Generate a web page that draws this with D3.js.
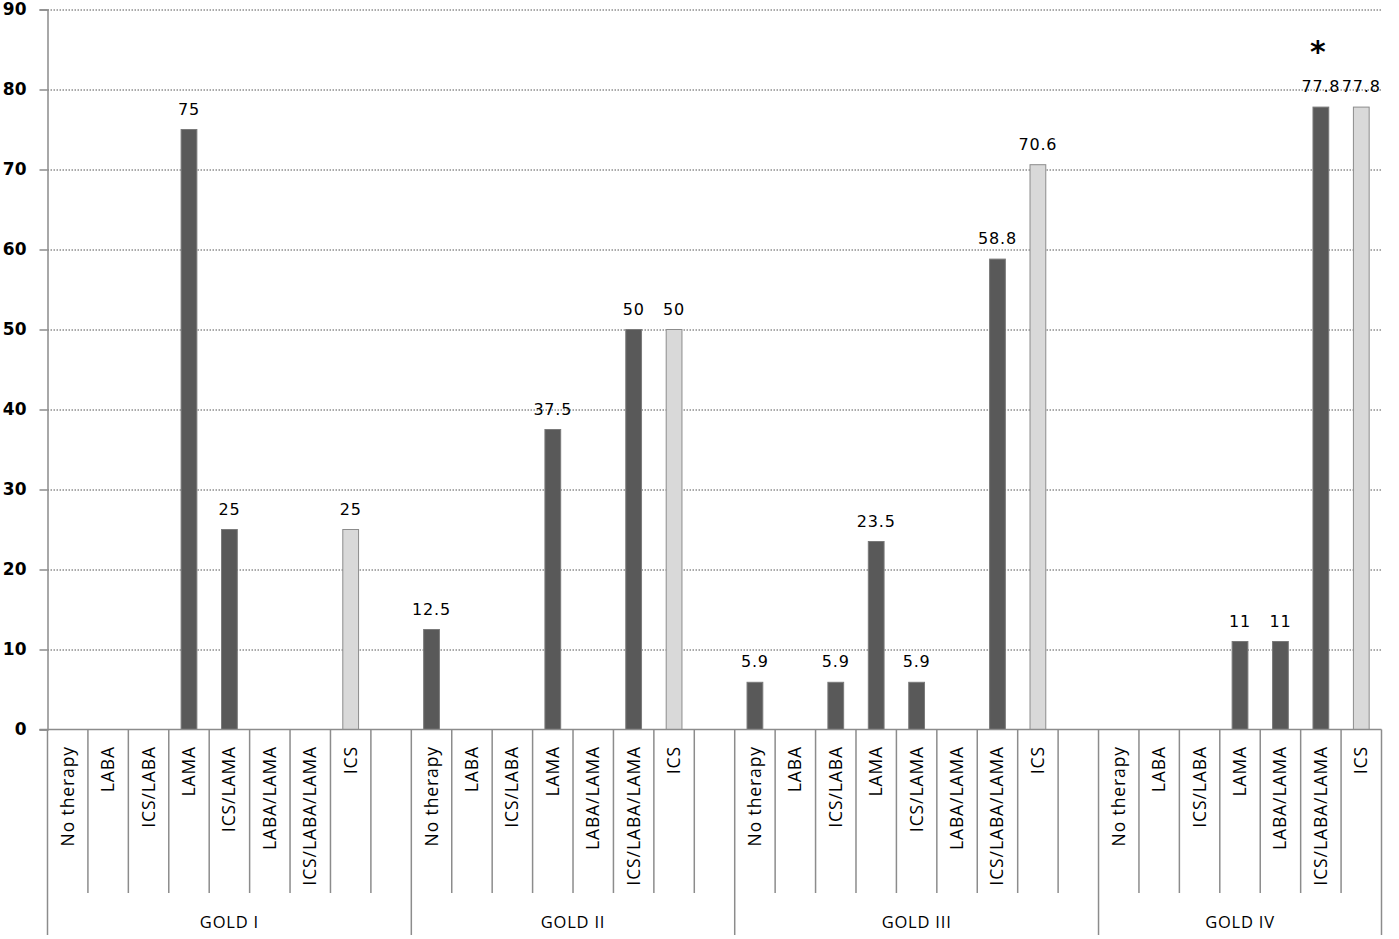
<!DOCTYPE html>
<html><head><meta charset="utf-8">
<script src="https://cdn.jsdelivr.net/npm/d3@7"></script>
<style>body{margin:0;background:#fff}svg{display:block}</style>
</head><body>
<script>
// ---- data ----
const groups = ["GOLD I", "GOLD II", "GOLD III", "GOLD IV"];
const goldICats = ["No therapy","LABA","ICS/LABA","LAMA","ICS/LAMA","LABA/LAMA","ICS/LABA/LAMA","ICS",""];
const goldIVals = [0,0,0,75,25,0,0,25,null];
const goldIICats = ["No therapy","LABA","ICS/LABA","LAMA","LABA/LAMA","ICS/LABA/LAMA","ICS",""];
const goldIIVals = [12.5,0,0,37.5,0,50,50,null];
const goldIIICats = ["No therapy","LABA","ICS/LABA","LAMA","ICS/LAMA","LABA/LAMA","ICS/LABA/LAMA","ICS",""];
const goldIIIVals = [5.9,0,5.9,23.5,5.9,0,58.8,70.6,null];
const goldIVCats = ["No therapy","LABA","ICS/LABA","LAMA","LABA/LAMA","ICS/LABA/LAMA","ICS"];
const goldIVVals = [0,0,0,11,11,77.8,77.8];
const yTicks = [0,10,20,30,40,50,60,70,80,90];
const annotations = [{group:"GOLD IV", cat:"ICS/LABA/LAMA", text:"*"}];

const groupCats = [goldICats, goldIICats, goldIIICats, goldIVCats];
const groupVals = [goldIVals, goldIIVals, goldIIIVals, goldIVVals];

// ---- build slots ----
const slots = [];
groups.forEach((g, gi) => {
  groupCats[gi].forEach((c, ci) => {
    slots.push({key: g + "|" + ci, group: g, cat: c, value: groupVals[gi][ci]});
  });
});

const W = 1399, H = 939;
const x0 = 47.5, x1 = 1381.5, yTop = 9.5, yBase = 729.5;

const svg = d3.select("body").append("svg").attr("width", W).attr("height", H);

const x = d3.scaleBand().domain(slots.map(d => d.key)).range([x0, x1]).padding(0);
const y = d3.scaleLinear().domain([0, 90]).range([yBase, yTop]);

const gray = "#8c8c8c";

// gridlines
const grid = svg.append("g").attr("transform", `translate(${x0},0)`)
  .call(d3.axisLeft(y).tickValues(yTicks.filter(t => t > 0)).tickSize(-(x1 - x0)).tickFormat(""));
grid.select(".domain").remove();
grid.selectAll("line").attr("stroke", "#555").attr("stroke-width", 1).attr("stroke-dasharray", "1.5,1.5");

// bars
const bw = x.bandwidth() * 0.39;
const barData = slots.filter(d => d.value != null && d.value > 0);
svg.append("g").selectAll("rect").data(barData).join("rect")
  .attr("x", d => x(d.key) + x.bandwidth()/2 - bw/2)
  .attr("y", d => y(d.value))
  .attr("width", bw)
  .attr("height", d => y(0) - y(d.value))
  .attr("fill", d => d.cat === "ICS" ? "#d9d9d9" : "#595959")
  .attr("stroke", d => d.cat === "ICS" ? "#8c8c8c" : "#7a7a7a")
  .attr("stroke-width", 1);

// value labels
svg.append("g").selectAll("text").data(barData).join("text")
  .attr("x", d => x(d.key) + x.bandwidth()/2)
  .attr("y", d => y(d.value) - 15)
  .attr("text-anchor", "middle")
  .attr("font-family", "DejaVu Sans, Verdana, sans-serif")
  .attr("font-size", 16)
  .attr("letter-spacing", 0.8)
  .attr("fill", "#000")
  .text(d => String(d.value));

// y axis
const yAxis = svg.append("g").attr("transform", `translate(${x0},0)`)
  .call(d3.axisLeft(y).tickValues(yTicks).tickSize(8).tickPadding(13));
yAxis.select(".domain").attr("stroke", gray).attr("stroke-width", 1.5);
yAxis.selectAll(".tick line").attr("stroke", gray).attr("stroke-width", 1.5);
yAxis.selectAll("text").attr("font-family", "DejaVu Sans, Verdana, sans-serif")
  .attr("font-size", 17).attr("font-weight", "bold").attr("fill", "#000");

// baseline
svg.append("line").attr("x1", x0 - 8).attr("x2", x1).attr("y1", yBase).attr("y2", yBase)
  .attr("stroke", gray).attr("stroke-width", 1.5);

// category separators
const catSepBottom = 893, groupSepBottom = 935;
const groupStarts = new Set(groups.map(g => slots.find(s => s.group === g).key));
svg.append("g").selectAll("line").data(slots).join("line")
  .attr("x1", d => x(d.key)).attr("x2", d => x(d.key))
  .attr("y1", yBase).attr("y2", d => groupStarts.has(d.key) ? groupSepBottom : catSepBottom)
  .attr("stroke", gray).attr("stroke-width", 1.5);
svg.append("line").attr("x1", x1).attr("x2", x1).attr("y1", yBase).attr("y2", groupSepBottom)
  .attr("stroke", gray).attr("stroke-width", 1.5);

// category labels
svg.append("g").selectAll("text").data(slots.filter(d => d.cat)).join("text")
  .attr("transform", d => `translate(${x(d.key) + x.bandwidth()/2 + 6},746) rotate(-90)`)
  .attr("text-anchor", "end")
  .attr("font-family", "Open Sans, sans-serif")
  .attr("font-size", 17.5)
  .attr("letter-spacing", 0.9)
  .attr("fill", "#000")
  .text(d => d.cat);

// group labels
svg.append("g").selectAll("text").data(groups).join("text")
  .attr("x", g => {
    const ss = slots.filter(s => s.group === g);
    const a = x(ss[0].key), b = x(ss[ss.length-1].key) + x.bandwidth();
    return (a + b) / 2;
  })
  .attr("y", 928)
  .attr("text-anchor", "middle")
  .attr("font-family", "Open Sans, sans-serif")
  .attr("font-size", 16.5)
  .attr("letter-spacing", 0.8)
  .attr("fill", "#000")
  .text(g => g);

// annotations
svg.append("g").selectAll("text").data(annotations).join("text")
  .attr("x", a => {
    const s = slots.find(s => s.group === a.group && s.cat === a.cat);
    return x(s.key) + x.bandwidth()/2 - 3;
  })
  .attr("y", 62)
  .attr("text-anchor", "middle")
  .attr("font-family", "DejaVu Sans, sans-serif")
  .attr("font-size", 30)
  .attr("font-weight", "bold")
  .attr("fill", "#000")
  .text(a => a.text);
</script>
</body></html>
